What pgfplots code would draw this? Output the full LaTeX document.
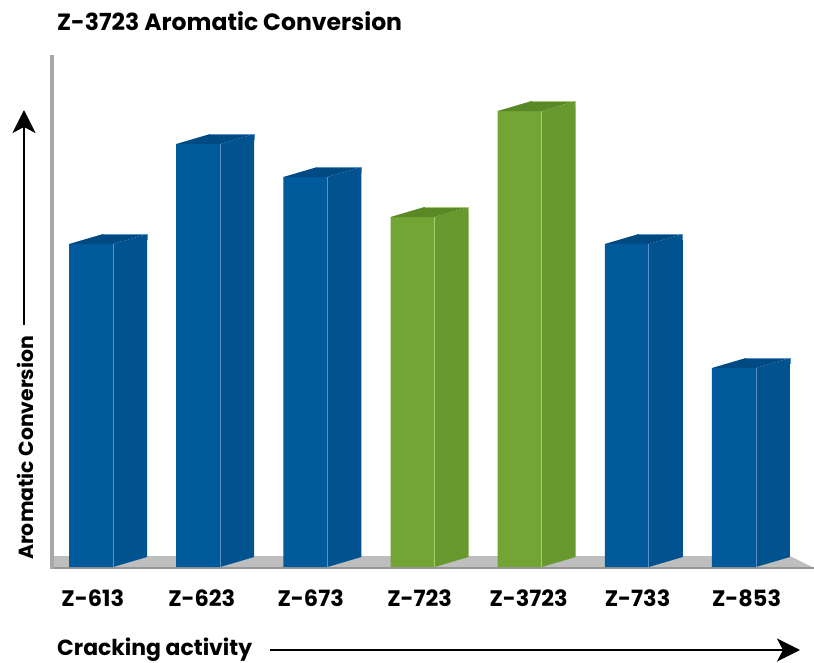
\documentclass[border=0pt]{standalone}
\usepackage{pgfplots}
\pgfplotsset{compat=1.18}
\usepackage{fontspec}
\setmainfont{Poppins}
\usetikzlibrary{arrows.meta}
\definecolor{frontB}{RGB}{0,90,155}
\definecolor{sideB}{RGB}{0,83,143}
\definecolor{topB}{RGB}{0,74,131}
\definecolor{hlB}{RGB}{90,145,200}
\definecolor{frontG}{RGB}{114,165,52}
\definecolor{sideG}{RGB}{103,153,46}
\definecolor{topG}{RGB}{90,136,38}
\definecolor{hlG}{RGB}{165,205,115}
\definecolor{floorC}{RGB}{190,190,190}
\definecolor{floorL}{RGB}{150,150,150}
\definecolor{axisC}{RGB}{168,168,168}
% side and top faces of a 3D bar, drawn at the bar's top-centre data point
\newcommand\boxfaces[3]{%
  \pgfsetfillcolor{#1}%
  \pgfpathmoveto{\pgfpoint{22bp}{0bp}}%
  \pgfpathlineto{\pgfpoint{56bp}{10bp}}%
  \pgfpathlineto{\pgfpoint{56bp}{10bp-\h bp}}%
  \pgfpathlineto{\pgfpoint{22bp}{-\h bp}}%
  \pgfpathclose\pgfusepath{fill}%
  \pgfsetfillcolor{#2}%
  \pgfpathmoveto{\pgfpoint{-22bp}{0bp}}%
  \pgfpathlineto{\pgfpoint{22bp}{0bp}}%
  \pgfpathlineto{\pgfpoint{56bp}{10bp}}%
  \pgfpathlineto{\pgfpoint{12bp}{10bp}}%
  \pgfpathclose\pgfusepath{fill}%
  \pgfsetstrokecolor{#3}\pgfsetlinewidth{0.6bp}%
  \pgfpathmoveto{\pgfpoint{12bp}{10bp}}%
  \pgfpathlineto{\pgfpoint{56bp}{10bp}}%
  \pgfpathlineto{\pgfpoint{56bp}{4bp}}%
  \pgfusepath{stroke}%
  \pgfpathmoveto{\pgfpoint{22bp}{0bp}}%
  \pgfpathlineto{\pgfpoint{22bp}{-\h bp}}%
  \pgfusepath{stroke}%
}
\pgfdeclareplotmark{boxB}{\boxfaces{sideB}{topB}{hlB}}
\pgfdeclareplotmark{boxG}{\boxfaces{sideG}{topG}{hlG}}
\pgfplotstableread{
x y
0 323
1 423
2 390
5 323
6 199
}\blue
\pgfplotstableread{
x y
3 350
4 456
}\green
\begin{document}
\begin{tikzpicture}
\path[use as bounding box] (-52bp,-95bp) rectangle (762bp,568bp);
\begin{axis}[
  x=107.14bp, y=1bp,
  xmin=-0.3647, xmax=6.7475, ymin=-1, ymax=512,
  scale only axis, clip=false,
  axis line style={draw=none},
  ytick=\empty,
  xtick={0.016,1.033,2.05,3.067,4.084,5.101,6.118},
  xticklabels={Z-613,Z-623,Z-673,Z-723,Z-3723,Z-733,Z-853},
  major tick length=0pt,
  xticklabel style={anchor=base, yshift=-38bp, font=\fontsize{22.5}{26}\selectfont\bfseries},
]
% floor
\fill[floorC] (axis cs:-0.3647,-1) -- (axis cs:6.7475,-1) -- (axis cs:6.523,11) -- (axis cs:-0.3647,11) -- cycle;
\draw[floorL, line width=1.5bp] (axis cs:-0.3647,-1) -- (axis cs:6.7475,-1);
\draw[axisC, line width=3bp] (axis cs:-0.3647,-2) -- (axis cs:-0.3647,512);
% front faces
\addplot[ybar, bar width=44bp, bar shift=0pt, fill=frontB, draw=none] table[x=x,y=y] {\blue};
\addplot[ybar, bar width=44bp, bar shift=0pt, fill=frontG, draw=none] table[x=x,y=y] {\green};
% side and top faces
\addplot[only marks, mark=boxB, visualization depends on={rawy \as \h}] table[x=x,y=y] {\blue};
\addplot[only marks, mark=boxG, visualization depends on={rawy \as \h}] table[x=x,y=y] {\green};
\end{axis}
\node[anchor=base west, inner sep=0pt, font=\fontsize{23.6}{28}\selectfont\bfseries] at (5bp,537bp) {Z-3723 Aromatic Conversion};
\node[anchor=base west, inner sep=0pt, rotate=90, font=\fontsize{20.5}{24}\selectfont\bfseries] at (-19bp,8bp) {Aromatic Conversion};
\draw[line width=2.5bp, -{Stealth[length=23bp,width=23bp,inset=6bp]}] (-28bp,243bp) -- (-28bp,458bp);
\node[anchor=base west, inner sep=0pt, font=\fontsize{22}{26}\selectfont\bfseries] at (5bp,-87bp) {Cracking activity};
\draw[line width=2.5bp, -{Stealth[length=23bp,width=23bp,inset=6bp]}] (218bp,-82bp) -- (748bp,-82bp);
\end{tikzpicture}
\end{document}
